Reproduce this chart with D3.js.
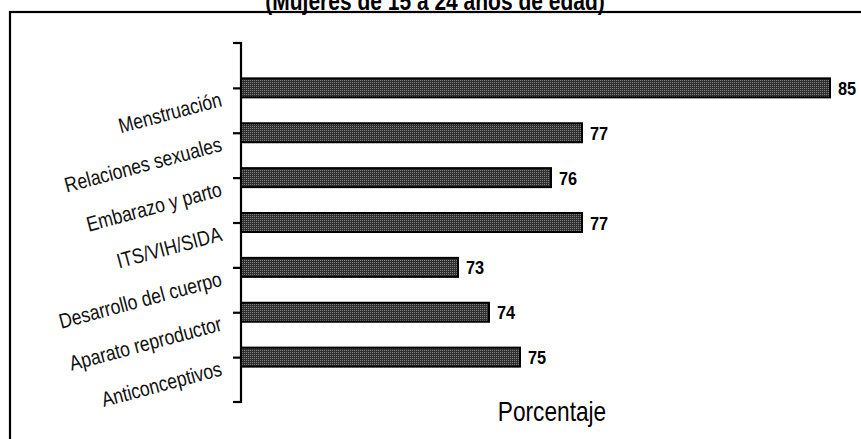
<!DOCTYPE html>
<html>
<head>
<meta charset="utf-8">
<script src="https://cdn.jsdelivr.net/npm/d3@7"></script>
<style>
  html, body { margin: 0; padding: 0; background: #fff; }
  svg { display: block; }
  .narrow { font-family: 'Liberation Sans Narrow', 'Arial Narrow', 'Liberation Sans', Arial, sans-serif; }
</style>
</head>
<body>
<svg id="chart" width="861" height="439"></svg>
<script>
const title = "(Mujeres de 15 a 24 años de edad)";
const categories = ["Menstruación", "Relaciones sexuales", "Embarazo y parto", "ITS/VIH/SIDA",
                    "Desarrollo del cuerpo", "Aparato reproductor", "Anticonceptivos"];
const values = [85, 77, 76, 77, 73, 74, 75];
const xAxisTitle = "Porcentaje";
const xDomain = [66, 86];

const svg = d3.select("#chart");
const NARROW = 0.84; // horizontal condensation to imitate Arial Narrow

// pattern fill for bars (fine dot grid)
const defs = svg.append("defs");
const pat = defs.append("pattern").attr("id", "dots")
  .attr("width", 2).attr("height", 2).attr("patternUnits", "userSpaceOnUse");
pat.append("rect").attr("width", 2).attr("height", 2).attr("fill", "#303030");
pat.append("rect").attr("x", 0).attr("y", 0).attr("width", 1).attr("height", 1).attr("fill", "#808080");

// outer frame
svg.append("rect").attr("x", 10).attr("y", 12).attr("width", 880).attr("height", 460)
  .attr("fill", "none").attr("stroke", "#000").attr("stroke-width", 2.2);

// title (partially cut at top, as in the reference)
svg.append("text").attr("class", "narrow")
  .attr("transform", `translate(435,10) scale(${NARROW},1)`)
  .attr("text-anchor", "middle")
  .attr("font-weight", "bold").attr("font-size", 25)
  .text(title);

const plot = { left: 241, top: 43, bottom: 402, right: 861 };

const x = d3.scaleLinear().domain(xDomain).range([plot.left, plot.right]);
const y = d3.scalePoint().domain(categories).range([plot.top, plot.bottom]).padding(1);
const barH = 19;

// bars
svg.append("g").selectAll("rect").data(values).join("rect")
  .attr("x", x(xDomain[0]))
  .attr("y", (d, i) => y(categories[i]) - barH / 2)
  .attr("width", d => x(d) - x(xDomain[0]))
  .attr("height", barH)
  .attr("fill", "url(#dots)")
  .attr("stroke", "#000").attr("stroke-width", 2);

// y axis with ticks at ends and at each category
const yAxis = d3.axisLeft(y).tickSize(8).tickFormat("");
const gy = svg.append("g").attr("transform", `translate(${plot.left},0)`).call(yAxis);
gy.select(".domain").remove();
gy.selectAll(".tick line").attr("stroke", "#000").attr("stroke-width", 2.2);
const tickEnds = [plot.top, plot.bottom];
gy.selectAll(".endtick").data(tickEnds).join("line")
  .attr("x1", -8).attr("x2", 0).attr("y1", d => d).attr("y2", d => d)
  .attr("stroke", "#000").attr("stroke-width", 2.2);
gy.append("line").attr("x1", 0).attr("x2", 0).attr("y1", plot.top - 1).attr("y2", plot.bottom + 1)
  .attr("stroke", "#000").attr("stroke-width", 2.2);

// rotated category labels
svg.append("g").selectAll("text").data(categories).join("text")
  .attr("class", "narrow")
  .attr("text-anchor", "end")
  .attr("font-size", 21)
  .attr("fill", "#111")
  .attr("transform", d => `translate(223,${y(d) + 18}) rotate(-15) scale(${NARROW},1)`)
  .text(d => d);

// value labels
svg.append("g").selectAll("text").data(values).join("text")
  .attr("class", "narrow")
  .attr("transform", (d, i) => `translate(${x(d) + 8},${y(categories[i]) + 7}) scale(0.86,1)`)
  .attr("font-size", 19).attr("font-weight", "bold")
  .text(d => d);

// x axis title
svg.append("text").attr("class", "narrow")
  .attr("transform", `translate(552,421) scale(${NARROW},1)`)
  .attr("text-anchor", "middle")
  .attr("font-size", 27)
  .text(xAxisTitle);
</script>
</body>
</html>
